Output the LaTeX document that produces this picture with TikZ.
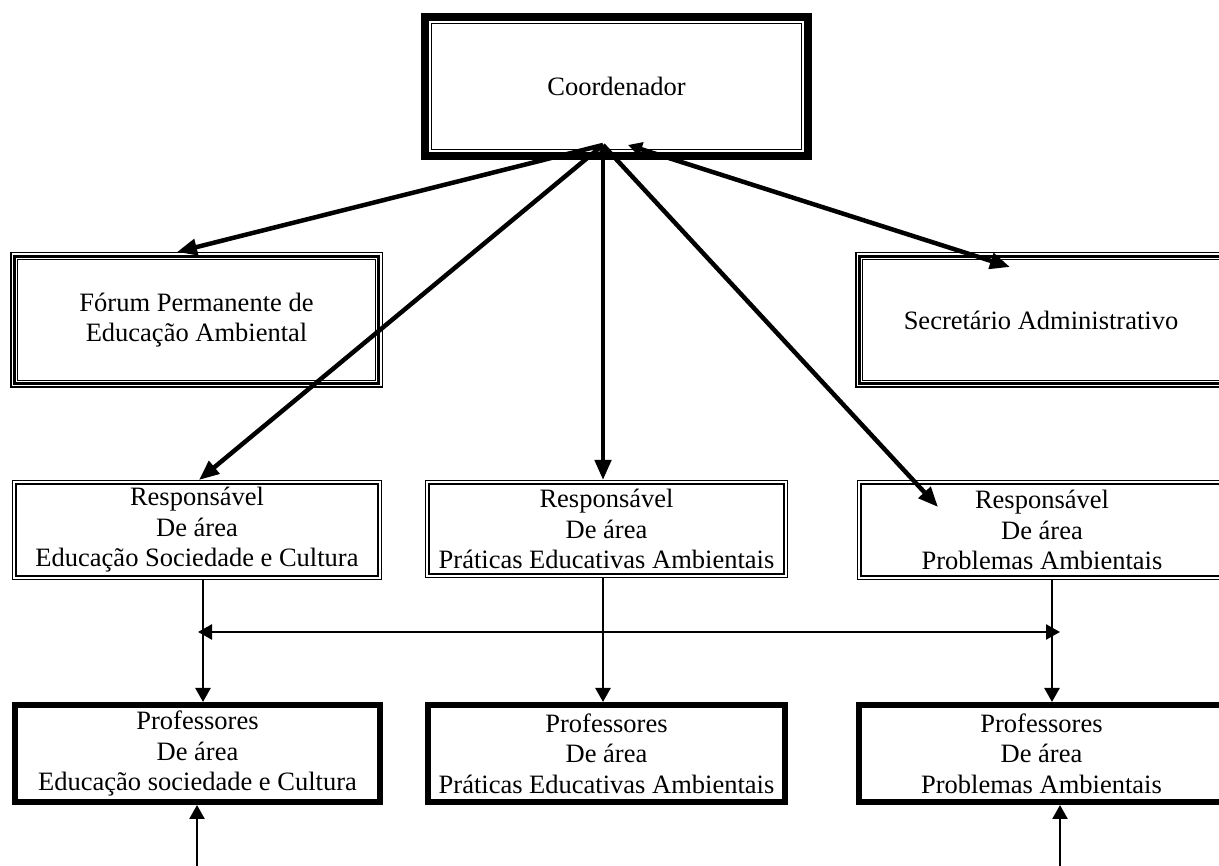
\documentclass[tikz,border=0pt]{standalone}
\usepackage{fontspec}
\setmainfont{Liberation Serif}
\usetikzlibrary{arrows.meta,calc}
\newcommand\bline[3]{\draw[line width=#3pt] ($(#1.north west)+({#2+#3/2},{-#2-#3/2})$) rectangle ($(#1.south east)+({-#2-#3/2},{#2+#3/2})$);}
\begin{document}
\begin{tikzpicture}[x=1pt,y=1pt,
  box/.style={inner sep=0pt, outer sep=0pt, align=center, font=\fontsize{26.5}{30.5}\selectfont},
  big/.style={line width=4.5pt, -{Triangle[length=20pt,width=16pt]}},
  bigboth/.style={line width=4.5pt, {Triangle[length=14pt,width=14pt]}-{Triangle[length=20pt,width=16pt]}},
  small/.style={line width=2.5pt, -{Triangle[length=14pt,width=15pt]}},
  smallboth/.style={line width=2.5pt, {Triangle[length=14pt,width=15pt]}-{Triangle[length=14pt,width=15pt]}},
]
\clip (0,0) rectangle (1219,866);
\useasboundingbox (0,0) rectangle (1219,866);

\node[box, minimum width=391pt, minimum height=147pt] (c) at (616.5,779.5) {Coordenador};
\node[box, minimum width=373pt, minimum height=136pt] (f) at (196.5,546) {Fórum Permanente de\\Educação Ambiental};
\node[box, minimum width=372pt, minimum height=136pt] (s) at (1041,546) {Secretário Administrativo};
\node[box, minimum width=370pt, minimum height=100pt] (r1) at (197,336) {Responsável\\De área\\Educação Sociedade e Cultura};
\node[box, minimum width=363pt, minimum height=98pt] (r2) at (606.5,337) {Responsável\\De área\\Práticas Educativas Ambientais};
\node[box, minimum width=370pt, minimum height=100pt] (r3) at (1042,336) {Responsável\\De área\\Problemas Ambientais};
\node[box, minimum width=371pt, minimum height=103pt] (p1) at (197.5,112.5) {Professores\\De área\\Educação sociedade e Cultura};
\node[box, minimum width=363pt, minimum height=103pt] (p2) at (606.5,112.5) {Professores\\De área\\Práticas Educativas Ambientais};
\node[box, minimum width=371pt, minimum height=103pt] (p3) at (1041.5,112.5) {Professores\\De área\\Problemas Ambientais};

% borders
\bline{c}{0}{8}\bline{c}{10}{1.2}
\bline{f}{0}{1.5}\bline{f}{3}{3}\bline{f}{7}{1}
\bline{s}{0}{1.5}\bline{s}{3}{3}\bline{s}{7}{1}
\bline{r1}{0}{1.3}\bline{r1}{2.6}{2.3}
\bline{r2}{0}{1.3}\bline{r2}{2.6}{2.3}
\bline{r3}{0}{1.3}\bline{r3}{2.6}{2.3}
\bline{p1}{0}{6}\bline{p2}{0}{6}\bline{p3}{0}{6}

% connectors from the coordinator
\coordinate (cb) at ($(c.south)+(-13.5,15)$);
\coordinate (cs) at ($(c.south)+(11.5,15)$);
\draw[big] (cb) -- ($(f.north)+(-19.5,0)$);
\draw[big] (cb) -- ($(r1.north)+(2,0)$);
\draw[bigboth] (cb) -- ($(r2.north)+(-3.5,0)$);
\draw[big] (cb) -- ($(r3.north west)+(81,-27)$);
\draw[bigboth] (cs) -- ($(s.north west)+(155,-15)$);

% lower connectors
\draw[small] ($(r1.south)+(6,0)$) -- ($(p1.north)+(5.5,0)$);
\draw[small] ($(r2.south)+(-3.5,0)$) -- ($(p2.north)+(-3.5,0)$);
\draw[small] ($(r3.south)+(10,0)$) -- ($(p3.north)+(10.5,0)$);
\coordinate (hl) at (198,234);
\coordinate (hr) at (1060,234);
\draw[smallboth] (hl) -- (hr);
\coordinate (b1) at (197,-5);
\coordinate (b3) at (1060,-5);
\draw[small] (b1) -- (p1.south -| b1);
\draw[small] (b3) -- (p3.south -| b3);
\end{tikzpicture}
\end{document}
